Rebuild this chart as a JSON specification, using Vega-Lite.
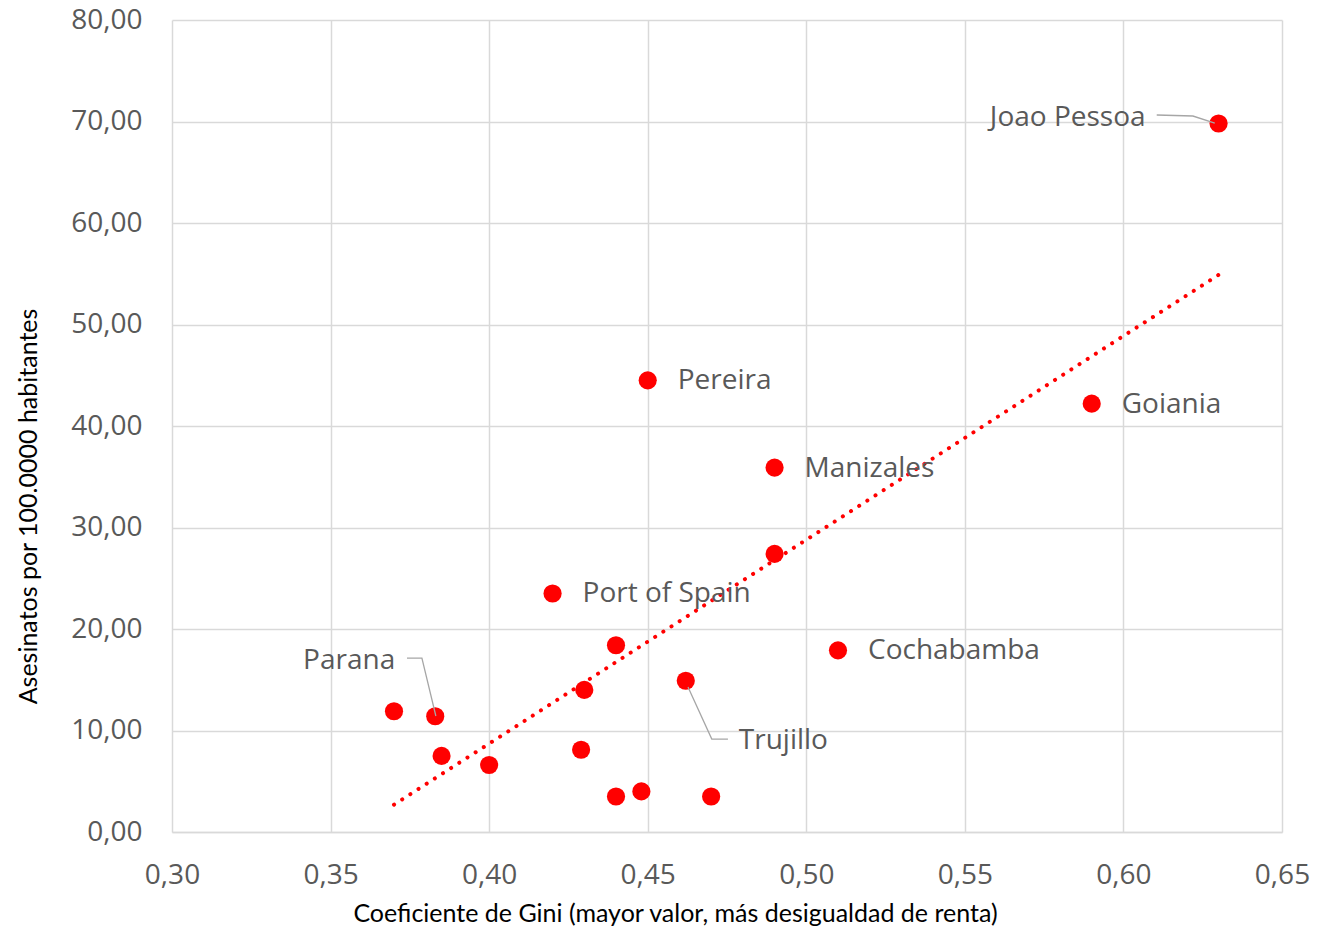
{
  "$schema": "https://vega.github.io/schema/vega-lite/v6.json",
  "width": 1110,
  "height": 812,
  "autosize": {"type": "none"},
  "padding": {"left": 172, "top": 20, "right": 44, "bottom": 96},
  "background": "white",
  "config": {
    "view": {"stroke": null},
    "axis": {
      "labelFont": "Open Sans",
      "labelFontSize": 28,
      "labelColor": "#595959",
      "labelFlush": false,
      "titleFont": "Lato",
      "titleFontSize": 25,
      "titleFontWeight": "normal",
      "titleColor": "#000000",
      "grid": true,
      "gridColor": "#d9d9d9",
      "gridWidth": 1.5,
      "ticks": false,
      "tickSize": 0,
      "domainColor": "#d9d9d9",
      "domainWidth": 1.5
    }
  },
  "datasets": {
    "cities": [
      {"ciudad": "Joao Pessoa", "gini": 0.63, "asesinatos": 69.8},
      {"ciudad": "Goiania", "gini": 0.59, "asesinatos": 42.2},
      {"ciudad": "Pereira", "gini": 0.45, "asesinatos": 44.5},
      {"ciudad": "Manizales", "gini": 0.49, "asesinatos": 35.9},
      {"ciudad": "", "gini": 0.49, "asesinatos": 27.4},
      {"ciudad": "Port of Spain", "gini": 0.42, "asesinatos": 23.5},
      {"ciudad": "Cochabamba", "gini": 0.51, "asesinatos": 17.9},
      {"ciudad": "", "gini": 0.44, "asesinatos": 18.4},
      {"ciudad": "Trujillo", "gini": 0.462, "asesinatos": 14.9},
      {"ciudad": "", "gini": 0.43, "asesinatos": 14.0},
      {"ciudad": "", "gini": 0.37, "asesinatos": 11.9},
      {"ciudad": "Parana", "gini": 0.383, "asesinatos": 11.4},
      {"ciudad": "", "gini": 0.385, "asesinatos": 7.5},
      {"ciudad": "", "gini": 0.40, "asesinatos": 6.6},
      {"ciudad": "", "gini": 0.429, "asesinatos": 8.1},
      {"ciudad": "", "gini": 0.44, "asesinatos": 3.5},
      {"ciudad": "", "gini": 0.448, "asesinatos": 4.0},
      {"ciudad": "", "gini": 0.47, "asesinatos": 3.5}
    ],
    "leaders": [
      {"leader": "Joao Pessoa", "seq": 1, "gini": 0.6105, "asesinatos": 70.64},
      {"leader": "Joao Pessoa", "seq": 2, "gini": 0.6219, "asesinatos": 70.54},
      {"leader": "Joao Pessoa", "seq": 3, "gini": 0.6288, "asesinatos": 69.85},
      {"leader": "Parana", "seq": 1, "gini": 0.3741, "asesinatos": 17.14},
      {"leader": "Parana", "seq": 2, "gini": 0.3788, "asesinatos": 17.14},
      {"leader": "Parana", "seq": 3, "gini": 0.3832, "asesinatos": 11.43},
      {"leader": "Trujillo", "seq": 1, "gini": 0.4627, "asesinatos": 14.29},
      {"leader": "Trujillo", "seq": 2, "gini": 0.4702, "asesinatos": 9.16},
      {"leader": "Trujillo", "seq": 3, "gini": 0.4753, "asesinatos": 9.16}
    ]
  },
  "layer": [
    {
      "data": {"name": "cities"},
      "mark": {"type": "circle", "color": "#ff0000", "opacity": 1, "size": 330},
      "encoding": {
        "x": {
          "field": "gini", "type": "quantitative",
          "scale": {"domain": [0.3, 0.65], "nice": false, "zero": false},
          "axis": {
            "values": [0.3, 0.35, 0.4, 0.45, 0.5, 0.55, 0.6, 0.65],
            "labelExpr": "replace(format(datum.value, '.2f'), '.', ',')",
            "labelPadding": 29,
            "title": "Coeficiente de Gini (mayor valor, más desigualdad de renta)",
            "titleX": 503,
            "titleY": 89,
            "titleBaseline": "alphabetic",
            "titleAlign": "center",
            "titleAnchor": null
          }
        },
        "y": {
          "field": "asesinatos", "type": "quantitative",
          "scale": {"domain": [0, 80], "nice": false},
          "axis": {
            "values": [0, 10, 20, 30, 40, 50, 60, 70, 80],
            "labelExpr": "replace(format(datum.value, '.2f'), '.', ',')",
            "labelPadding": 30,
            "domain": false,
            "title": "Asesinatos por 100.0000 habitantes",
            "titleX": -144,
            "titleY": 486,
            "titleAngle": -90,
            "titleBaseline": "middle",
            "titleAlign": "center",
            "titleAnchor": null
          }
        }
      }
    },
    {
      "data": {"name": "cities"},
      "transform": [{"regression": "asesinatos", "on": "gini"}],
      "mark": {"type": "line", "color": "#ff0000", "strokeWidth": 4, "strokeDash": [0.1, 9.6], "strokeCap": "round"},
      "encoding": {
        "x": {"field": "gini", "type": "quantitative"},
        "y": {"field": "asesinatos", "type": "quantitative"}
      }
    },
    {
      "data": {"name": "leaders"},
      "mark": {"type": "line", "color": "#a6a6a6", "strokeWidth": 1.3},
      "encoding": {
        "x": {"field": "gini", "type": "quantitative"},
        "y": {"field": "asesinatos", "type": "quantitative"},
        "detail": {"field": "leader"},
        "order": {"field": "seq"}
      }
    },
    {
      "data": {"name": "cities"},
      "transform": [{"filter": "datum.ciudad != '' && datum.ciudad != 'Joao Pessoa' && datum.ciudad != 'Parana' && datum.ciudad != 'Trujillo'"}],
      "mark": {"type": "text", "align": "left", "baseline": "middle", "dx": 30, "dy": 1, "font": "Open Sans", "fontSize": 28, "color": "#595959"},
      "encoding": {
        "x": {"field": "gini", "type": "quantitative"},
        "y": {"field": "asesinatos", "type": "quantitative"},
        "text": {"field": "ciudad"}
      }
    },
    {
      "data": {"name": "cities"},
      "transform": [{"filter": "datum.ciudad == 'Joao Pessoa'"}],
      "mark": {"type": "text", "align": "right", "baseline": "middle", "dx": -73, "dy": -6, "font": "Open Sans", "fontSize": 28, "color": "#595959"},
      "encoding": {
        "x": {"field": "gini", "type": "quantitative"},
        "y": {"field": "asesinatos", "type": "quantitative"},
        "text": {"field": "ciudad"}
      }
    },
    {
      "data": {"name": "cities"},
      "transform": [{"filter": "datum.ciudad == 'Parana'"}],
      "mark": {"type": "text", "align": "right", "baseline": "middle", "dx": -40, "dy": -55, "font": "Open Sans", "fontSize": 28, "color": "#595959"},
      "encoding": {
        "x": {"field": "gini", "type": "quantitative"},
        "y": {"field": "asesinatos", "type": "quantitative"},
        "text": {"field": "ciudad"}
      }
    },
    {
      "data": {"name": "cities"},
      "transform": [{"filter": "datum.ciudad == 'Trujillo'"}],
      "mark": {"type": "text", "align": "left", "baseline": "middle", "dx": 53, "dy": 60, "font": "Open Sans", "fontSize": 28, "color": "#595959"},
      "encoding": {
        "x": {"field": "gini", "type": "quantitative"},
        "y": {"field": "asesinatos", "type": "quantitative"},
        "text": {"field": "ciudad"}
      }
    }
  ]
}
